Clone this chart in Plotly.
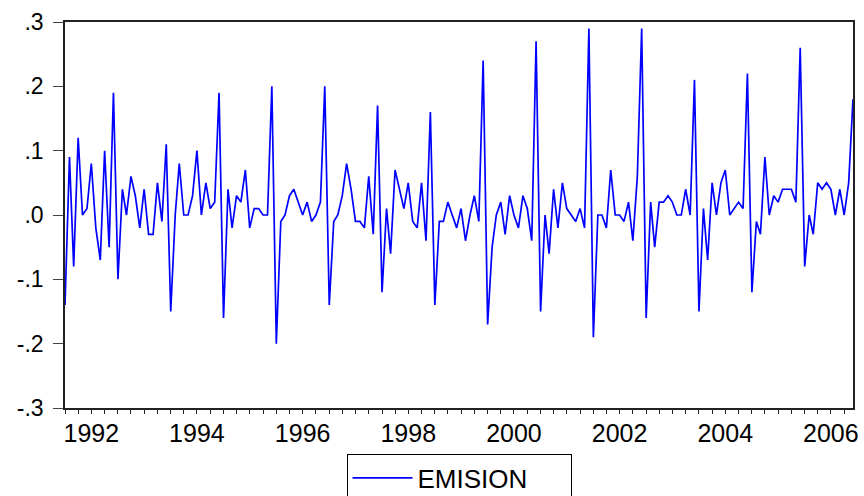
import pandas as pd
import plotly.graph_objects as go

start_month = "1992-01-01"
n_months = 180
emision = [
    -0.14, 0.09, -0.08, 0.12, 0.00, 0.01, 0.08, -0.02, -0.07, 0.10, -0.05, 0.19,
    -0.10, 0.04, 0.00, 0.06, 0.03, -0.02, 0.04, -0.03, -0.03, 0.05, -0.01, 0.11,
    -0.15, 0.00, 0.08, 0.00, 0.00, 0.03, 0.10, 0.00, 0.05, 0.01, 0.02, 0.19,
    -0.16, 0.04, -0.02, 0.03, 0.02, 0.07, -0.02, 0.01, 0.01, 0.00, 0.00, 0.20,
    -0.20, -0.01, 0.00, 0.03, 0.04, 0.02, 0.00, 0.02, -0.01, 0.00, 0.02, 0.20,
    -0.14, -0.01, 0.00, 0.03, 0.08, 0.04, -0.01, -0.01, -0.02, 0.06, -0.03, 0.17,
    -0.12, 0.01, -0.06, 0.07, 0.04, 0.01, 0.05, -0.01, -0.02, 0.05, -0.04, 0.16,
    -0.14, -0.01, -0.01, 0.02, 0.00, -0.02, 0.01, -0.04, 0.00, 0.03, -0.01, 0.24,
    -0.17, -0.05, 0.00, 0.02, -0.03, 0.03, 0.00, -0.02, 0.03, 0.01, -0.04, 0.27,
    -0.15, 0.00, -0.06, 0.04, -0.02, 0.05, 0.01, 0.00, -0.01, 0.01, -0.02, 0.29,
    -0.19, 0.00, 0.00, -0.02, 0.07, 0.00, 0.00, -0.01, 0.02, -0.04, 0.06, 0.29,
    -0.16, 0.02, -0.05, 0.02, 0.02, 0.03, 0.02, 0.00, 0.00, 0.04, 0.00, 0.21,
    -0.15, 0.01, -0.07, 0.05, 0.00, 0.05, 0.07, 0.00, 0.01, 0.02, 0.01, 0.22,
    -0.12, -0.01, -0.03, 0.09, 0.00, 0.03, 0.02, 0.04, 0.04, 0.04, 0.02, 0.26,
    -0.08, 0.00, -0.03, 0.05, 0.04, 0.05, 0.04, 0.00, 0.04, 0.00, 0.05, 0.18,
]
y_tick_values = [0.3, 0.2, 0.1, 0.0, -0.1, -0.2, -0.3]
y_tick_labels = [".3", ".2", ".1", ".0", "-.1", "-.2", "-.3"]
label_years = [1992, 1994, 1996, 1998, 2000, 2002, 2004, 2006]

dates = pd.date_range(start_month, periods=n_months, freq="MS")
year_starts = pd.date_range("1992-01-01", "2007-01-01", freq="YS")
quarter_starts = pd.date_range("1992-01-01", "2007-01-01", freq="QS")
label_pos = [pd.Timestamp(f"{y}-07-01") for y in label_years]
xrange = [dates[0], dates[-1]]

font = "Liberation Sans, Arial, sans-serif"

fig = go.Figure()
fig.add_trace(go.Scatter(x=dates, y=emision, mode="lines", name="EMISION",
                         line=dict(color="#0000FF", width=1.7)))

fig.update_layout(
    width=864, height=496,
    margin=dict(l=65, r=11, t=22, b=88, autoexpand=False),
    paper_bgcolor="white", plot_bgcolor="white",
    font=dict(family=font, color="black"),
    showlegend=True,
    legend=dict(orientation="h", x=0.5, xanchor="center", y=-0.118, yanchor="top",
                bordercolor="black", borderwidth=1, bgcolor="white",
                font=dict(size=26, family=font), itemwidth=60, entrywidth=148),
    xaxis=dict(range=xrange, showgrid=False, zeroline=False,
               showline=True, linecolor="#222", linewidth=1.5, mirror=True,
               tickmode="array", tickvals=list(year_starts), ticktext=[""] * len(year_starts),
               ticks="outside", ticklen=7, tickcolor="#222", tickwidth=1,
               minor=dict(tickmode="array", tickvals=list(quarter_starts), ticks="outside",
                          ticklen=4, tickcolor="#222", tickwidth=1)),
    xaxis2=dict(range=xrange, overlaying="x", matches="x", side="bottom",
                showgrid=False, zeroline=False, showline=False, ticks="",
                tickmode="array", tickvals=label_pos, ticktext=[str(y) for y in label_years],
                tickfont=dict(size=25, family=font), ticklabelstandoff=8),
    yaxis=dict(range=[-0.3, 0.3], showgrid=False, zeroline=False,
               showline=True, linecolor="#222", linewidth=1.5, mirror=True,
               tickmode="array", tickvals=y_tick_values, ticktext=y_tick_labels,
               ticks="outside", ticklen=10, tickcolor="#444", tickwidth=1,
               tickfont=dict(size=23, family=font), ticklabelstandoff=5),
)
fig.add_trace(go.Scatter(x=[dates[0]], y=[None], xaxis="x2", showlegend=False,
                         hoverinfo="skip", mode="lines"))

fig.write_html("out.html")
